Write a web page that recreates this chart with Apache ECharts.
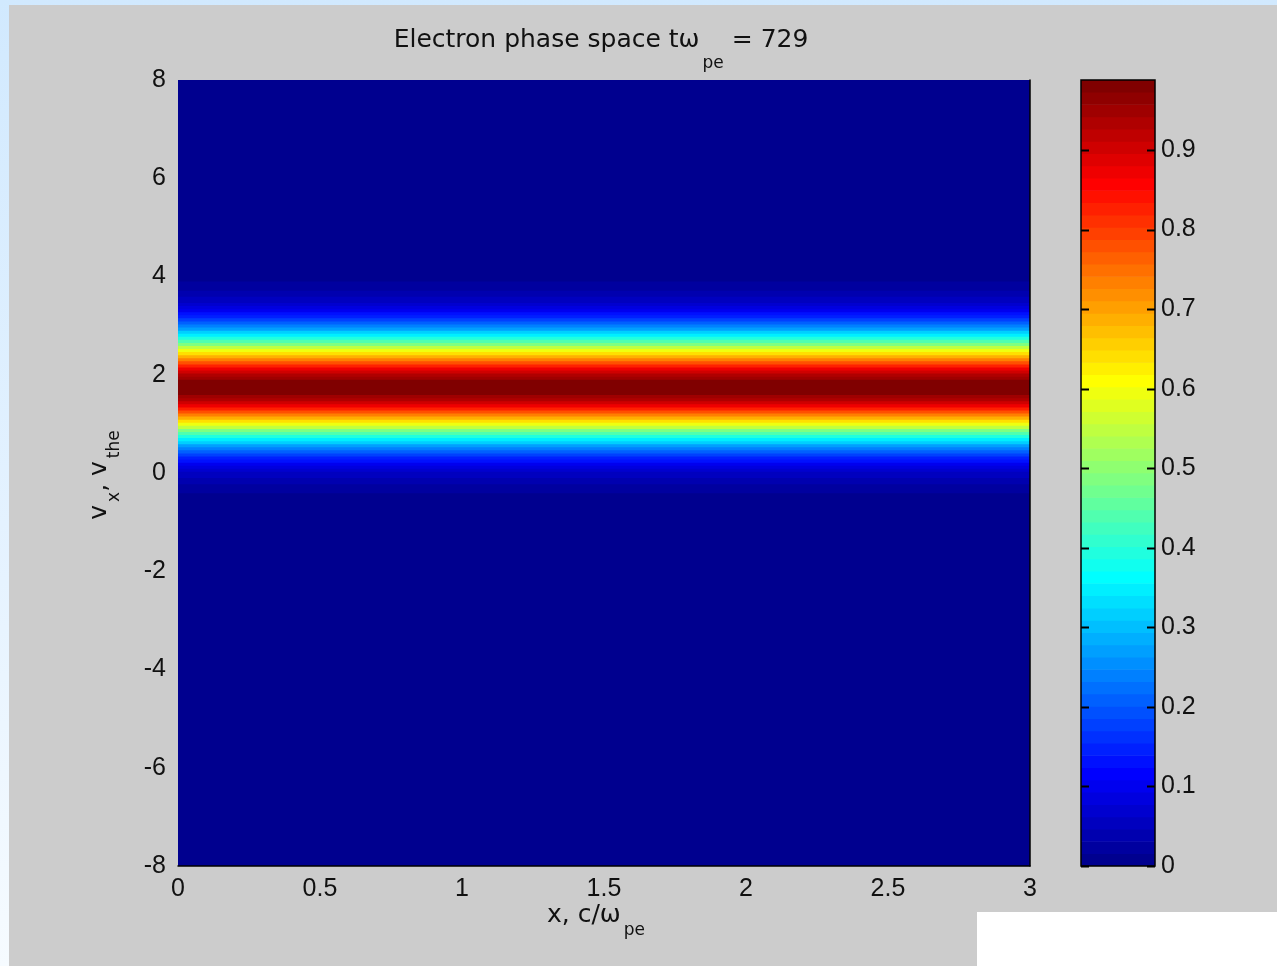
<!DOCTYPE html>
<html>
<head>
<meta charset="utf-8">
<script src="https://cdn.jsdelivr.net/npm/echarts@6/dist/echarts.min.js"></script>
<style>
  html, body { margin:0; padding:0; width:1277px; height:966px; overflow:hidden;
    background: linear-gradient(to bottom, #d1e9fe 0%, #e6f3ff 60%, #f6fbff 100%); }
  #panel { position:absolute; left:9px; top:5px; width:1268px; height:961px; background:#cccccc; }
  #white { position:absolute; left:977px; top:912px; width:300px; height:54px; background:#ffffff; }
  #chart { position:absolute; left:0; top:0; width:1277px; height:966px; }
</style>
</head>
<body>
<div id="panel"></div>
<div id="white"></div>
<div id="chart"></div>
<script>
// ---- data ----
const X_RANGE = [0, 3];            // x, c/omega_pe
const V_RANGE = [-8, 8];           // v_x / v_the
const X_INTERVAL = 0.5;
const V_INTERVAL = 2;
const CBAR_INTERVAL = 0.1;
const COLOR_MAX = 0.988;           // top of colour bar
const V_BIN_START = -0.78125;      // lower edge of first profile bin
const V_BIN_STEP = 0.0625;         // profile bin height in v
// distribution value per v bin (same for every x), from v = -0.75 up to v = 4.25
const PROFILE = [
  0.003, 0.004, 0.006, 0.007, 0.010, 0.012, 0.016, 0.020, 0.026, 0.032,
  0.040, 0.049, 0.060, 0.073, 0.089, 0.106, 0.127, 0.150, 0.176, 0.205,
  0.237, 0.273, 0.311, 0.352, 0.396, 0.443, 0.491, 0.541, 0.591, 0.642,
  0.692, 0.740, 0.786, 0.830, 0.869, 0.904, 0.933, 0.957, 0.974, 0.984,
  0.988,
  0.984, 0.974, 0.957, 0.933, 0.904, 0.869, 0.830, 0.786, 0.740, 0.692,
  0.642, 0.591, 0.541, 0.491, 0.443, 0.396, 0.352, 0.311, 0.273, 0.237,
  0.205, 0.176, 0.150, 0.127, 0.106, 0.089, 0.073, 0.060, 0.049, 0.040,
  0.032, 0.026, 0.020, 0.016, 0.012, 0.010, 0.007, 0.006, 0.004, 0.003
];
const TITLE_MAIN = 'Electron phase space tω';
const TITLE_SUB = 'pe';
const TITLE_END = ' = 729';
const XLABEL_MAIN = 'x, c/ω';
const XLABEL_SUB = 'pe';
const YLABEL = [['v', 'x'], [', v', 'the']];

// ---- jet colormap (64 levels, MATLAB style) ----
function clamp(v){ return Math.max(0, Math.min(1, v)); }
const NLEV = 64;
const JET = [];
for (let x = 1; x <= NLEV; x++) {
  const r = clamp(Math.min((x - 24) / 16, (72 - x) / 16));
  const g = clamp(Math.min((x - 8) / 16, (56 - x) / 16));
  const b = clamp(Math.min((x + 8) / 16, (40 - x) / 16));
  JET.push('rgb(' + Math.round(r*255) + ',' + Math.round(g*255) + ',' + Math.round(b*255) + ')');
}
const pieces = JET.map((c, k) => {
  const p = { gte: k * COLOR_MAX / NLEV, color: c };
  if (k < NLEV - 1) p.lt = (k + 1) * COLOR_MAX / NLEV; else p.lte = 100;
  return p;
});

// ---- build series data ----
const vEnd = V_BIN_START + PROFILE.length * V_BIN_STEP;
const mainData = [[V_RANGE[0], V_BIN_START, 0]];
PROFILE.forEach((val, i) => {
  mainData.push([V_BIN_START + i * V_BIN_STEP, V_BIN_START + (i + 1) * V_BIN_STEP, val]);
});
mainData.push([vEnd, V_RANGE[1], 0]);

const cbarData = [];
for (let k = 0; k < NLEV; k++) {
  cbarData.push([k * COLOR_MAX / NLEV, (k + 1) * COLOR_MAX / NLEV, (k + 0.5) * COLOR_MAX / NLEV]);
}
const cbarTicks = [];
for (let t = 0; t <= COLOR_MAX + 1e-9; t = Math.round((t + CBAR_INTERVAL) * 1000) / 1000) cbarTicks.push([t]);

const FONT = 'Liberation Sans';
const LFONT = 'DejaVu Sans';
const TXT = '#111';

const mainStyle = { fontFamily: LFONT, fontSize: 25, fill: TXT, verticalAlign: 'top', lineHeight: 30 };
function subStyle(drop) {
  return { fontFamily: LFONT, fontSize: 17, fill: TXT, verticalAlign: 'top', lineHeight: 20, padding: [drop, 0, 0, 3] };
}

const chart = echarts.init(document.getElementById('chart'), null, { renderer: 'canvas' });
chart.setOption({
  animation: false,
  backgroundColor: 'transparent',
  grid: [
    { left: 178, top: 80, width: 852, height: 786, show: false },
    { left: 1081, top: 80, width: 74, height: 786, show: false }
  ],
  visualMap: {
    type: 'piecewise', show: false, dimension: 2, seriesIndex: [0, 1], pieces: pieces
  },
  xAxis: [
    { type: 'value', gridIndex: 0, min: X_RANGE[0], max: X_RANGE[1], interval: X_INTERVAL, z: 10,
      axisLine: { show: true, onZero: false, lineStyle: { color: '#000', width: 1.5 } },
      axisTick: { show: false }, splitLine: { show: false },
      axisLabel: { fontFamily: FONT, fontSize: 25, color: TXT, margin: 11 } },
    { type: 'value', gridIndex: 1, min: 0, max: 1, show: false }
  ],
  yAxis: [
    { type: 'value', gridIndex: 0, min: V_RANGE[0], max: V_RANGE[1], interval: V_INTERVAL,
      axisLine: { show: false }, axisTick: { show: false }, splitLine: { show: false },
      axisLabel: { fontFamily: FONT, fontSize: 25, color: TXT, margin: 12 } },
    { type: 'value', gridIndex: 0, position: 'right', min: V_RANGE[0], max: V_RANGE[1], z: 10,
      axisLine: { show: true, onZero: false, lineStyle: { color: '#000', width: 1.5 } },
      axisTick: { show: false }, axisLabel: { show: false }, splitLine: { show: false } },
    { type: 'value', gridIndex: 1, position: 'right', min: 0, max: COLOR_MAX, interval: CBAR_INTERVAL, z: 10,
      axisLine: { show: false }, axisTick: { show: false }, splitLine: { show: false },
      axisLabel: { fontFamily: FONT, fontSize: 25, color: TXT, margin: 6, showMaxLabel: false } }
  ],
  series: [
    { type: 'custom', xAxisIndex: 0, yAxisIndex: 0, clip: true, z: 2,
      dimensions: ['vlo', 'vhi', 'f'], encode: { y: [0, 1] },
      data: mainData,
      renderItem: function (params, api) {
        const a = api.coord([X_RANGE[0], api.value(1)]);
        const b = api.coord([X_RANGE[1], api.value(0)]);
        return { type: 'rect', shape: { x: a[0], y: a[1] - 0.4, width: b[0] - a[0], height: b[1] - a[1] + 0.8 },
                 style: { fill: api.visual('color') } };
      } },
    { type: 'custom', xAxisIndex: 1, yAxisIndex: 2, clip: true, z: 2,
      dimensions: ['lo', 'hi', 'f'], encode: { y: [0, 1] },
      data: cbarData,
      renderItem: function (params, api) {
        const a = api.coord([0, api.value(1)]);
        const b = api.coord([1, api.value(0)]);
        return { type: 'rect', shape: { x: a[0], y: a[1] - 0.3, width: b[0] - a[0], height: b[1] - a[1] + 0.6 },
                 style: { fill: api.visual('color') } };
      } },
    // colour-bar frame
    { type: 'custom', xAxisIndex: 1, yAxisIndex: 2, z: 5, silent: true,
      data: [[0]],
      renderItem: function (params, api) {
        const a = api.coord([0, COLOR_MAX]);
        const b = api.coord([1, 0]);
        return { type: 'rect', shape: { x: a[0], y: a[1], width: b[0] - a[0], height: b[1] - a[1] },
                 style: { fill: 'none', stroke: '#000', lineWidth: 1.5 } };
      } },
    // colour-bar ticks (inside, both sides)
    { type: 'custom', xAxisIndex: 1, yAxisIndex: 2, z: 6, silent: true,
      dimensions: ['t'], encode: { y: 0 },
      data: cbarTicks,
      renderItem: function (params, api) {
        const l = api.coord([0, api.value(0)]);
        const r = api.coord([1, api.value(0)]);
        const y = Math.round(l[1]) + 0.5;
        return { type: 'group', children: [
          { type: 'line', shape: { x1: l[0], y1: y, x2: l[0] + 8, y2: y }, style: { stroke: '#000', lineWidth: 2 } },
          { type: 'line', shape: { x1: r[0] - 8, y1: y, x2: r[0], y2: y }, style: { stroke: '#000', lineWidth: 2 } }
        ] };
      } }
  ],
  graphic: [
    { type: 'text', x: 601, y: 28, z: 20,
      style: { text: '{m|' + TITLE_MAIN + '}{s|' + TITLE_SUB + '}{m|' + TITLE_END + '}',
        align: 'center', verticalAlign: 'top',
        rich: { m: mainStyle, s: subStyle(27) } } },
    { type: 'text', x: 596, y: 903, z: 20,
      style: { text: '{m|' + XLABEL_MAIN + '}{s|' + XLABEL_SUB + '}',
        align: 'center', verticalAlign: 'top',
        rich: { m: mainStyle, s: subStyle(19) } } },
    { type: 'text', x: 87, y: 475, rotation: Math.PI / 2, z: 20,
      style: { text: YLABEL.map(p => '{m|' + p[0] + '}{s|' + p[1] + '}').join(''),
        align: 'center', verticalAlign: 'top',
        rich: { m: mainStyle, s: subStyle(19) } } }
  ]
});
</script>
</body>
</html>
